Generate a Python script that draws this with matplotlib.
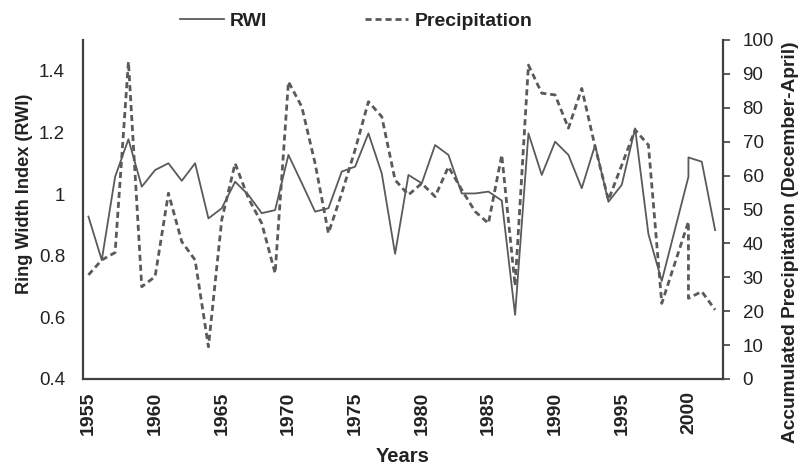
import matplotlib
matplotlib.use("Agg")
import matplotlib.pyplot as plt

plt.rcParams['font.family'] = ['Liberation Sans', 'DejaVu Sans']

# --------------------------
# Data
# --------------------------
years = list(range(1955, 1999)) + [2000, 2000, 2001, 2002]

rwi = [0.927, 0.786, 1.056, 1.178, 1.024, 1.078, 1.100, 1.043, 1.100, 0.921,
       0.954, 1.040, 0.997, 0.938, 0.948, 1.127,
       1.036, 0.943, 0.954, 1.073, 1.089, 1.197, 1.067, 0.806, 1.062, 1.035,
       1.159, 1.127, 1.002, 1.002, 1.008, 0.979, 0.608, 1.197,
       1.062, 1.170, 1.127, 1.019, 1.159, 0.975, 1.030, 1.213, 0.870, 0.718,
       1.056, 1.119, 1.105, 0.883]

precip = [30.7, 35.1, 37.3, 93.6, 27.2, 30.2, 54.8, 40.5, 35.1, 9.5,
          47.0, 63.6, 53.3, 45.9, 31.2, 87.7,
          80.3, 63.6, 43.0, 54.8, 67.6, 81.8, 77.4, 58.7, 54.3, 57.7,
          53.8, 62.6, 55.8, 49.4, 45.9, 66.1, 27.5, 92.6,
          84.3, 83.8, 74.0, 85.7, 68.5, 52.8, 63.1, 73.5, 69.0, 22.3,
          46.4, 23.8, 25.8, 20.4]

xticks = [1955, 1960, 1965, 1970, 1975, 1980, 1985, 1990, 1995, 2000]
left_ticks = [0.4, 0.6, 0.8, 1.0, 1.2, 1.4]
left_labels = ["0.4", "0.6", "0.8", "1", "1.2", "1.4"]
right_ticks = list(range(0, 101, 10))

# --------------------------
# Figure
# --------------------------
line_col = "#5a5a5a"
axis_col = "#404040"
text_col = "#222222"

fig = plt.figure(figsize=(7.99, 4.65), dpi=100)
ax = fig.add_axes([0.104, 0.185, 0.801, 0.729])
ax2 = ax.twinx()

l1, = ax.plot(years, rwi, color=line_col, lw=1.3, label="RWI")
l2, = ax2.plot(years, precip, color=line_col, lw=2.0, dashes=(2.2, 1.4),
               label="Precipitation")

ax.set_xlim(1954.6, 2002.6)
ax.set_ylim(0.4, 1.5)
ax2.set_ylim(0, 100)

ax.set_xticks(xticks)
ax.set_xticklabels([str(t) for t in xticks], rotation=90, fontweight="bold",
                   fontsize=14, color=text_col)
ax.set_yticks(left_ticks)
ax.set_yticklabels(left_labels, fontsize=13.5, color=text_col)
ax2.set_yticks(right_ticks)
ax2.set_yticklabels([str(t) for t in right_ticks], fontsize=13.5, color=text_col)

ax.tick_params(axis="x", length=0, pad=9)
ax.tick_params(axis="y", length=0, pad=13)
ax2.tick_params(axis="y", length=5, width=1.2, color=axis_col, pad=9)

for a in (ax, ax2):
    a.spines["top"].set_visible(False)
    for s in ("left", "right", "bottom"):
        a.spines[s].set_color(axis_col)
        a.spines[s].set_linewidth(1.6)
ax.spines["right"].set_visible(False)
ax2.spines["left"].set_visible(False)
ax2.spines["bottom"].set_visible(False)

ax.set_xlabel("Years", fontweight="bold", fontsize=14.5, color=text_col)
ax.xaxis.set_label_coords(0.5, -0.2)
ax.set_ylabel("Ring Width Index (RWI)", fontweight="bold", fontsize=13.1,
              color=text_col)
ax.yaxis.set_label_coords(-0.078, 0.547)
ax2.set_ylabel("Accumulated Precipitation (December-April)", fontweight="bold",
               fontsize=13.8, color=text_col)
ax2.yaxis.set_label_coords(1.092, 0.404)

leg = fig.legend(handles=[l1, l2], loc="upper center", bbox_to_anchor=(0.446, 1.012),
                 ncol=2, frameon=False, handlelength=2.25, handletextpad=0.32,
                 columnspacing=5.0, prop={"weight": "bold", "size": 14})
for t in leg.get_texts():
    t.set_color(text_col)

fig.savefig("out.png", dpi=100)
